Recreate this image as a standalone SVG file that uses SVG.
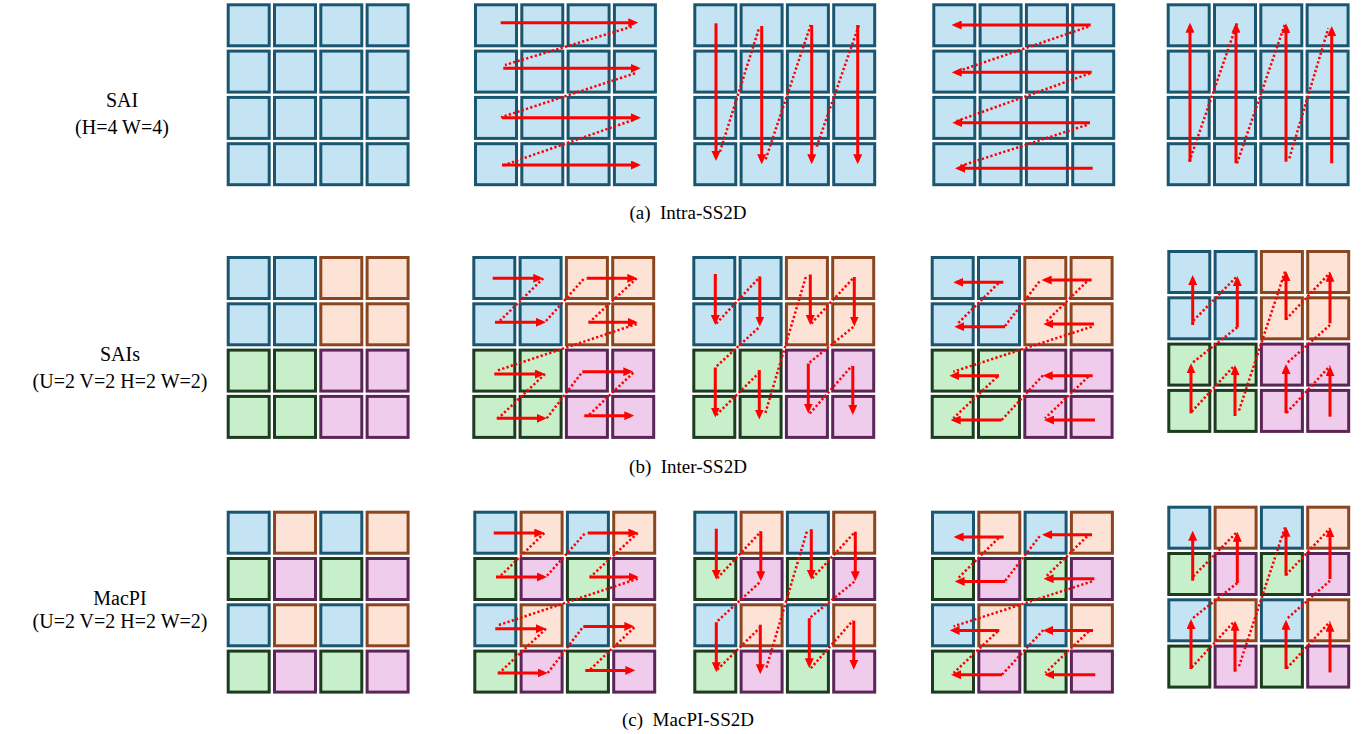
<svg xmlns="http://www.w3.org/2000/svg" xmlns:xlink="http://www.w3.org/1999/xlink" width="1370" height="734" viewBox="0 0 1370 734">
<style>
.b{fill:#C4E4F4;stroke:#1B5670;stroke-width:3}
.o{fill:#FCE3D6;stroke:#8A4621;stroke-width:3}
.g{fill:#C6EFCA;stroke:#1D3B1F;stroke-width:3}
.p{fill:#F0CCEC;stroke:#5B2557;stroke-width:3}
.s{fill:none;stroke:#FF0000;stroke-width:3;marker-end:url(#ah)}
.d{fill:none;stroke:#FF0000;stroke-width:2.5;stroke-dasharray:2.3 2.2}
.t{font-family:"Liberation Serif","Times New Roman",serif;font-size:20px;fill:#000;text-anchor:middle}
.c{font-family:"Liberation Serif","Times New Roman",serif;font-size:19px;fill:#000;text-anchor:middle}
</style>
<defs>
<marker id="ah" markerUnits="userSpaceOnUse" viewBox="0 0 10 9" markerWidth="10" markerHeight="9" refX="6.5" refY="4.5" orient="auto">
<path d="M0,0 L10,4.5 L0,9 Z" fill="#FF0000"/>
</marker>
<rect id="cell" x="1.5" y="1.5" width="41" height="41"/>
<g id="gridA">
<use href="#cell" class="b" x="0" y="0"/><use href="#cell" class="b" x="46.3" y="0"/><use href="#cell" class="b" x="92.6" y="0"/><use href="#cell" class="b" x="138.9" y="0"/>
<use href="#cell" class="b" x="0" y="46.3"/><use href="#cell" class="b" x="46.3" y="46.3"/><use href="#cell" class="b" x="92.6" y="46.3"/><use href="#cell" class="b" x="138.9" y="46.3"/>
<use href="#cell" class="b" x="0" y="92.6"/><use href="#cell" class="b" x="46.3" y="92.6"/><use href="#cell" class="b" x="92.6" y="92.6"/><use href="#cell" class="b" x="138.9" y="92.6"/>
<use href="#cell" class="b" x="0" y="138.9"/><use href="#cell" class="b" x="46.3" y="138.9"/><use href="#cell" class="b" x="92.6" y="138.9"/><use href="#cell" class="b" x="138.9" y="138.9"/>
</g>
<g id="gridB">
<use href="#cell" class="b" x="0" y="0"/><use href="#cell" class="b" x="46.3" y="0"/><use href="#cell" class="o" x="92.6" y="0"/><use href="#cell" class="o" x="138.9" y="0"/>
<use href="#cell" class="b" x="0" y="46.3"/><use href="#cell" class="b" x="46.3" y="46.3"/><use href="#cell" class="o" x="92.6" y="46.3"/><use href="#cell" class="o" x="138.9" y="46.3"/>
<use href="#cell" class="g" x="0" y="92.6"/><use href="#cell" class="g" x="46.3" y="92.6"/><use href="#cell" class="p" x="92.6" y="92.6"/><use href="#cell" class="p" x="138.9" y="92.6"/>
<use href="#cell" class="g" x="0" y="138.9"/><use href="#cell" class="g" x="46.3" y="138.9"/><use href="#cell" class="p" x="92.6" y="138.9"/><use href="#cell" class="p" x="138.9" y="138.9"/>
</g>
<g id="gridC">
<use href="#cell" class="b" x="0" y="0"/><use href="#cell" class="o" x="46.3" y="0"/><use href="#cell" class="b" x="92.6" y="0"/><use href="#cell" class="o" x="138.9" y="0"/>
<use href="#cell" class="g" x="0" y="46.3"/><use href="#cell" class="p" x="46.3" y="46.3"/><use href="#cell" class="g" x="92.6" y="46.3"/><use href="#cell" class="p" x="138.9" y="46.3"/>
<use href="#cell" class="b" x="0" y="92.6"/><use href="#cell" class="o" x="46.3" y="92.6"/><use href="#cell" class="b" x="92.6" y="92.6"/><use href="#cell" class="o" x="138.9" y="92.6"/>
<use href="#cell" class="g" x="0" y="138.9"/><use href="#cell" class="p" x="46.3" y="138.9"/><use href="#cell" class="g" x="92.6" y="138.9"/><use href="#cell" class="p" x="138.9" y="138.9"/>
</g>
<g id="scanRA">
<path class="s" d="M26.7,19.4H160.8"/><path class="s" d="M29.3,65H163.2"/><path class="s" d="M28,114.4H163.5"/><path class="s" d="M28,161.7H163.5"/>
<path class="d" d="M157.7,23.4L31,61.7"/><path class="d" d="M161,70L27,114"/><path class="d" d="M159,116.7L28.3,162.4"/>
</g>
<g id="scanDA">
<path class="s" d="M22.7,20V154.2"/><path class="s" d="M68.4,22.7V157.5"/><path class="s" d="M118.4,21.7V157.5"/><path class="s" d="M164.4,21.7V157.5"/>
<path class="d" d="M26.7,148.4L65.7,25"/><path class="d" d="M72.4,156L117.7,20.7"/><path class="d" d="M123.4,143.4L165.7,21.7"/>
</g>
<g id="scanLA">
<path class="s" d="M158.4,21.7H22.9"/><path class="s" d="M159.4,69H22.9"/><path class="s" d="M157.7,119.4H23.5"/><path class="s" d="M160.4,165H26.2"/>
<path class="d" d="M156,23.4L24.4,68.4"/><path class="d" d="M157.7,70L22.7,118.4"/><path class="d" d="M154.4,121.7L26,163.4"/>
</g>
<g id="scanUA">
<path class="s" d="M23.3,158.4V22.9"/><path class="s" d="M69.3,160V22.9"/><path class="s" d="M119.3,158.4V23.5"/><path class="s" d="M165,160V26.2"/>
<path class="d" d="M22.6,158.4L70.6,19.4"/><path class="d" d="M70.3,160L118.3,20.7"/><path class="d" d="M122.6,155L161.6,25"/>
</g>
<g id="scanR">
<path class="s" d="M20.4,22.3H67.5"/><path class="s" d="M22.7,66.3H70.2"/><path class="s" d="M114.4,22.3H161.5"/><path class="s" d="M116,66.3H161.9"/>
<path class="s" d="M22,118H69.2"/><path class="s" d="M24.4,162.3H70.9"/><path class="s" d="M110,115.7H157.5"/><path class="s" d="M112,159.7H158.5"/>
<path class="d" d="M71,22.3L27.7,64.7"/><path class="d" d="M73.7,65L112,22.3"/><path class="d" d="M164.4,22.3L117.7,65.7"/><path class="d" d="M164.4,68L24.4,114.7"/>
<path class="d" d="M72.7,118L26,162.3"/><path class="d" d="M74.4,162.3L109.4,116.7"/><path class="d" d="M161,116.7L116.7,159"/>
</g>
<g id="scanD">
<path class="s" d="M23,18V65.5"/><path class="s" d="M67.5,20.5V67"/><path class="s" d="M118,18.5V65.5"/><path class="s" d="M162,21V67"/>
<path class="s" d="M23,111.5V158"/><path class="s" d="M67,114V160"/><path class="s" d="M116,107.5V154"/><path class="s" d="M160.5,110V155.5"/>
<path class="d" d="M24,67.5L67.5,21"/><path class="d" d="M66,72L23.5,111"/><path class="d" d="M113.5,21L72.5,159"/><path class="d" d="M119,67.5L161,22"/>
<path class="d" d="M161,71L116,107.5"/><path class="d" d="M24,159L66,117.5"/><path class="d" d="M117.5,157.5L159.5,110"/>
</g>
<g id="scanL">
<path class="s" d="M72.6,26.3H26.1"/><path class="s" d="M74.3,70.7H27.1"/><path class="s" d="M161,24H114.5"/><path class="s" d="M163.3,68H116.1"/>
<path class="s" d="M68.3,119.7H22.1"/><path class="s" d="M71,164H23.5"/><path class="s" d="M162,119.7H115.5"/><path class="s" d="M164.3,164H116.8"/>
<path class="d" d="M67.6,27.3L26.6,68"/><path class="d" d="M74.3,70L109.3,24.7"/><path class="d" d="M156,25.7L114.3,66.7"/><path class="d" d="M161,70.7L22.6,115.7"/>
<path class="d" d="M66.6,120.7L22.6,162.3"/><path class="d" d="M71,164L112.6,119"/><path class="d" d="M157.6,120.7L114.3,162.3"/>
</g>
<g id="scanU">
<path class="s" d="M25.4,75V28.5"/><path class="s" d="M70,77.3V29.5"/><path class="s" d="M118.7,70V24.5"/><path class="s" d="M162.7,73.3V25.2"/>
<path class="s" d="M23.7,163.3V116.8"/><path class="s" d="M67.7,166V118.5"/><path class="s" d="M118.7,163.3V117.5"/><path class="s" d="M162.7,166.7V119.5"/>
<path class="d" d="M26,70.7L70,26"/><path class="d" d="M70,77.3L24.4,113.3"/><path class="d" d="M117.7,21.7L71,162.7"/><path class="d" d="M118.7,69.3L162.7,22.7"/>
<path class="d" d="M162.7,75L119.4,113.3"/><path class="d" d="M24.4,161.7L66.7,116"/><path class="d" d="M119.4,162.7L162.7,116"/>
</g>
</defs>

<g id="labels">
<text class="t" x="122" y="107">SAI</text>
<text class="t" x="122" y="134">(H=4 W=4)</text>
<text class="t" x="120" y="361">SAIs</text>
<text class="t" x="120" y="388">(U=2 V=2 H=2 W=2)</text>
<text class="t" x="120" y="605">MacPI</text>
<text class="t" x="120" y="628">(U=2 V=2 H=2 W=2)</text>
<text class="c" x="688" y="219" xml:space="preserve">(a)  Intra-SS2D</text>
<text class="c" x="688" y="473" xml:space="preserve">(b)  Inter-SS2D</text>
<text class="c" x="688" y="726" xml:space="preserve">(c)  MacPI-SS2D</text>
</g>

<g id="grids">
<g id="a1"><use href="#gridA" x="226.7" y="3.3"/></g>
<g id="a2"><use href="#gridA" x="474" y="3.3"/></g>
<g id="a3"><use href="#gridA" x="693.3" y="3.3"/></g>
<g id="a4"><use href="#gridA" x="932.3" y="3.3"/></g>
<g id="a5"><use href="#gridA" x="1166.7" y="3.3"/></g>
<g id="b1"><use href="#gridB" x="226.7" y="256"/></g>
<g id="b2"><use href="#gridB" x="472.3" y="256"/></g>
<g id="b3"><use href="#gridB" x="692.3" y="256"/></g>
<g id="b4"><use href="#gridB" x="930.7" y="256"/></g>
<g id="b5"><use href="#gridB" x="1167.3" y="250"/></g>
<g id="c1"><use href="#gridC" x="226.7" y="510.7"/></g>
<g id="c2"><use href="#gridC" x="473.3" y="510.7"/></g>
<g id="c3"><use href="#gridC" x="693.3" y="510.7"/></g>
<g id="c4"><use href="#gridC" x="931" y="510.7"/></g>
<g id="c5"><use href="#gridC" x="1167.3" y="505.7"/></g>
</g>

<g id="connectors">
<use href="#scanRA" x="474" y="3.3"/>
<use href="#scanDA" x="693.3" y="3.3"/>
<use href="#scanLA" x="932.3" y="3.3"/>
<use href="#scanUA" x="1166.7" y="3.3"/>
<use href="#scanR" x="472.3" y="256"/>
<use href="#scanD" x="692.3" y="256"/>
<use href="#scanL" x="930.7" y="256"/>
<use href="#scanU" x="1167.3" y="250"/>
<use href="#scanR" x="473.3" y="510.7"/>
<use href="#scanD" x="693.3" y="510.7"/>
<use href="#scanL" x="931" y="510.7"/>
<use href="#scanU" x="1167.3" y="505.7"/>
</g>
</svg>
